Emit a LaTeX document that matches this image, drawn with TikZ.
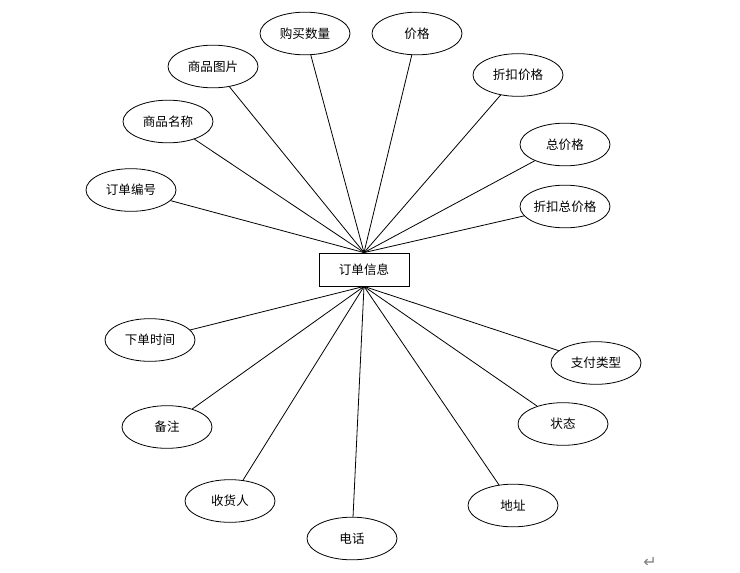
\documentclass[tikz,border=0pt]{standalone}
\usepackage{fontspec}
\newfontfamily\cjk{Noto Sans CJK SC}
\newfontfamily\dejavu{DejaVu Sans}
\usetikzlibrary{shapes.geometric}
\begin{document}
\begin{tikzpicture}[x=0.75pt,y=-0.75pt,
  attr/.style={ellipse,draw,line width=0.6pt,minimum width=67.5pt,minimum height=32pt,inner sep=0pt,font=\cjk\fontsize{9.4pt}{11pt}\selectfont},
  ent/.style={rectangle,draw,line width=0.6pt,minimum width=67.5pt,minimum height=24.75pt,inner sep=0pt,font=\cjk\fontsize{9.4pt}{11pt}\selectfont},
  conn/.style={line width=0.6pt}]
\useasboundingbox[fill=white] (0,0) rectangle (740,572);
\node[ent] (c) at (364,269.5) {订单信息};
\node[attr] (a1) at (305,33.5) {购买数量};
\node[attr] (a2) at (213,66.5) {商品图片};
\node[attr] (a3) at (168,121.5) {商品名称};
\node[attr] (a4) at (131,190) {订单编号};
\node[attr] (a5) at (417,33.5) {价格};
\node[attr] (a6) at (518,75) {折扣价格};
\node[attr] (a7) at (565,144.5) {总价格};
\node[attr] (a8) at (565,206.5) {折扣总价格};
\node[attr] (b1) at (150,340) {下单时间};
\node[attr] (b2) at (167,427) {备注};
\node[attr] (b3) at (230,501) {收货人};
\node[attr] (b4) at (352,538.5) {电话};
\node[attr] (b5) at (596,363) {支付类型};
\node[attr] (b6) at (563,424) {状态};
\node[attr] (b7) at (513,505.5) {地址};
\foreach \n in {a1,a2,a3,a4,a5,a6,a7,a8} \draw[conn] (c.north) -- (\n);
\foreach \n in {b1,b2,b3,b4,b5,b6,b7} \draw[conn] (c.south) -- (\n);
\node[text=gray,font=\dejavu\fontsize{12pt}{13pt}\selectfont,inner sep=0pt] (ret) at (650,562) {↵};
\end{tikzpicture}
\end{document}
